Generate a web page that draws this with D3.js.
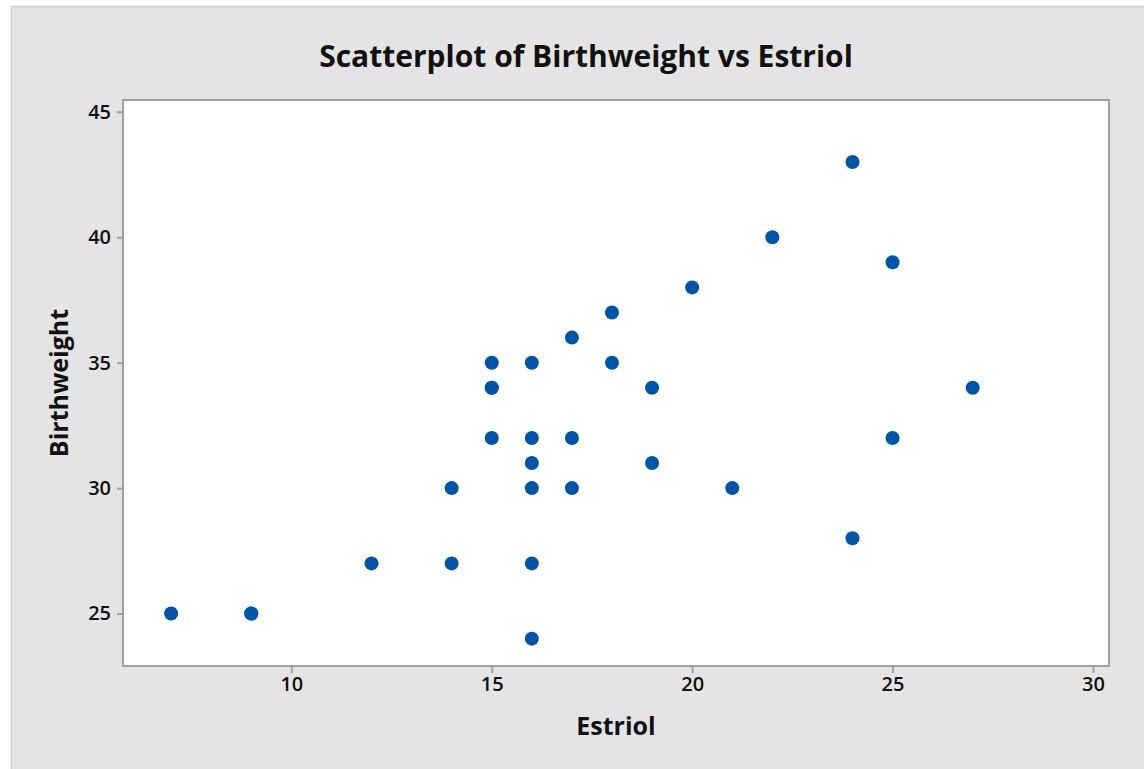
<!DOCTYPE html>
<html>
<head>
<meta charset="utf-8">
<script src="https://cdn.jsdelivr.net/npm/d3@7"></script>
<style>
  html, body { margin: 0; padding: 0; background: #fff; }
  svg { display: block; font-family: "Open Sans", "Noto Sans", sans-serif; }
</style>
</head>
<body>
<div id="chart"></div>
<script>
const width = 1144;
const height = 769;

// data: Estriol vs Birthweight
const estriol = [7, 9, 9, 12, 14, 16, 16, 14, 16, 16, 17, 19, 21, 24, 15, 16,
  17, 25, 27, 15, 15, 15, 16, 19, 18, 17, 18, 20, 22, 25, 24];
const birthweight = [25, 25, 25, 27, 27, 27, 24, 30, 30, 31, 30, 31, 30, 28, 32, 32,
  32, 32, 34, 34, 34, 35, 35, 34, 35, 36, 37, 38, 40, 39, 43];
const xTicks = [10, 15, 20, 25, 30];
const yTicks = [25, 30, 35, 40, 45];

const plot = { left: 123, top: 100, right: 1109, bottom: 666 };

const svg = d3.select("#chart")
  .append("svg")
  .attr("width", width)
  .attr("height", height);

// outer grey panel
svg.append("rect")
  .attr("x", 11.5)
  .attr("y", 6.5)
  .attr("width", width)
  .attr("height", height)
  .attr("fill", "#e4e4e4")
  .attr("stroke", "#cfcfcf")
  .attr("stroke-width", 1.5);

const x = d3.scaleLinear()
  .domain([5.8, 30.4])
  .range([plot.left, plot.right]);

const y = d3.scaleLinear()
  .domain([22.91, 45.47])
  .range([plot.bottom, plot.top]);

// plot area
svg.append("rect")
  .attr("x", plot.left)
  .attr("y", plot.top)
  .attr("width", plot.right - plot.left)
  .attr("height", plot.bottom - plot.top)
  .attr("fill", "#fff")
  .attr("stroke", "#a0a0a0")
  .attr("stroke-width", 2);

const xAxis = svg.append("g")
  .attr("transform", `translate(0,${plot.bottom + 1})`)
  .call(d3.axisBottom(x).tickValues(xTicks).tickSize(6).tickPadding(4));

const yAxis = svg.append("g")
  .attr("transform", `translate(${plot.left - 1},0)`)
  .call(d3.axisLeft(y).tickValues(yTicks).tickSize(5).tickPadding(6));

[xAxis, yAxis].forEach(g => {
  g.select(".domain").remove();
  g.selectAll(".tick line").attr("stroke", "#a0a0a0").attr("stroke-width", 2);
  g.selectAll(".tick text")
    .attr("fill", "#111")
    .style("font-family", "'Open Sans', sans-serif")
    .style("font-size", "20px")
    .style("font-weight", 600);
});

// points
svg.append("g")
  .selectAll("circle")
  .data(estriol.map((e, i) => ({ e, b: birthweight[i] })))
  .join("circle")
  .attr("cx", d => x(d.e))
  .attr("cy", d => y(d.b))
  .attr("r", 7)
  .attr("fill", "#0054a5");

// title
svg.append("text")
  .attr("x", 586)
  .attr("y", 67)
  .attr("text-anchor", "middle")
  .style("font-size", "30px")
  .style("font-weight", 700)
  .attr("fill", "#111")
  .text("Scatterplot of Birthweight vs Estriol");

// axis labels
svg.append("text")
  .attr("x", (plot.left + plot.right) / 2)
  .attr("y", 735)
  .attr("text-anchor", "middle")
  .style("font-size", "25px")
  .style("font-weight", 700)
  .attr("fill", "#111")
  .text("Estriol");

svg.append("text")
  .attr("transform", `translate(68,${(plot.top + plot.bottom) / 2}) rotate(-90)`)
  .attr("text-anchor", "middle")
  .style("font-size", "25px")
  .style("font-weight", 700)
  .attr("fill", "#111")
  .text("Birthweight");
</script>
</body>
</html>
